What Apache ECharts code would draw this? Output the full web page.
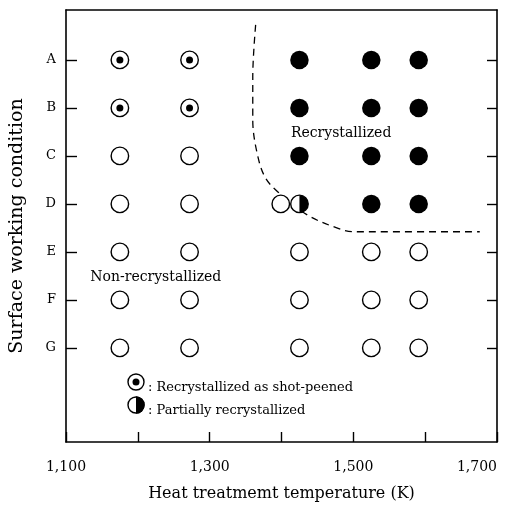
<!DOCTYPE html>
<html>
<head>
<meta charset="utf-8">
<script src="https://cdn.jsdelivr.net/npm/echarts@6/dist/echarts.min.js"></script>
<style>
  html, body { margin: 0; padding: 0; background: #fff; }
  #chart { width: 512px; height: 509px; }
</style>
</head>
<body>
<div id="chart"></div>
<script>
// Heat treatment temperatures (K) of the test columns
const temperatures = [1175, 1272, 1425, 1525, 1591];
// Surface working conditions, top to bottom
const conditions = ['A', 'B', 'C', 'D', 'E', 'F', 'G'];
// Result per condition row, one code per temperature column:
// S = recrystallized as shot-peened, R = recrystallized,
// P = partially recrystallized, N = non-recrystallized
const rowStates = ['SSRRR', 'SSRRR', 'NNRRR', 'NNPRR', 'NNNNN', 'NNNNN', 'NNNNN'];
// Additional specimen tested at condition D
const extraTemps = [1399];
const extraConds = ['D'];
const extraStates = ['N'];
// Boundary of the recrystallized region (temperature, condition position)
const boundaryTemp = [1364, 1360, 1360, 1366, 1377, 1395, 1436, 1477, 1500, 1676];
const boundaryCond = [-0.73, 0.35, 1.25, 1.94, 2.44, 2.75, 3.23, 3.50, 3.58, 3.58];
// Region annotations
const regionLabels = ['Recrystallized', 'Non-recrystallized'];
const regionTemp = [1483, 1225];
const regionCond = [1.54, 4.54];
// X tick labels that are printed
const xLabelValues = [1100, 1300, 1500, 1700];

const FONT = 'DejaVu Serif';

// Collect points per result code
const pts = { S: [], R: [], P: [], N: [] };
rowStates.forEach((row, ri) => {
  row.split('').forEach((code, ci) => {
    pts[code].push([temperatures[ci], ri]);
  });
});
extraTemps.forEach((t, i) => {
  pts[extraStates[i]].push([t, conditions.indexOf(extraConds[i])]);
});

const boundary = boundaryTemp.map((t, i) => [t, boundaryCond[i]]);
const regions = regionLabels.map((s, i) => ({ value: [regionTemp[i], regionCond[i]], name: s }));

const SIZE = 17.5;
const ringStyle = { color: '#fff', borderColor: '#000', borderWidth: 1.4, opacity: 1 };
const solidStyle = { color: '#000', opacity: 1 };
const rightHalf = 'path://M0,0 A10,10 0 0 1 0,20 Z';

const yMin = -1.04, yMax = 7.96;
const yTicks = [0, 1, 2, 3, 4, 5, 6];
const frameLine = { show: true, onZero: false, lineStyle: { color: '#000', width: 1.6 } };

const chart = echarts.init(document.getElementById('chart'), null, { renderer: 'canvas' });

chart.setOption({
  animation: false,
  backgroundColor: '#fff',
  grid: { left: 66, right: 15, top: 10, bottom: 67 },
  xAxis: [{
    type: 'value', min: 1100, max: 1700, interval: 100,
    name: 'Heat treatmemt temperature (K)',
    nameLocation: 'middle', nameGap: 44,
    nameTextStyle: { fontFamily: FONT, fontSize: 16, color: '#000' },
    axisLine: frameLine,
    axisTick: { show: true, inside: true, length: 10, lineStyle: { color: '#000', width: 1.4 } },
    axisLabel: {
      fontFamily: FONT, fontSize: 14, color: '#000', margin: 18,
      alignMaxLabel: 'right',
      formatter: v => xLabelValues.includes(v) ? v.toLocaleString('en-US') : ''
    },
    splitLine: { show: false }
  }, {
    type: 'value', min: 1100, max: 1700, position: 'top',
    axisLine: frameLine,
    axisTick: { show: false }, axisLabel: { show: false }, splitLine: { show: false }
  }],
  yAxis: [{
    type: 'value', inverse: true, min: yMin, max: yMax,
    name: 'Surface working condition',
    nameLocation: 'middle', nameGap: 39, nameRotate: 90,
    nameTextStyle: { fontFamily: FONT, fontSize: 19, color: '#000' },
    axisLine: frameLine,
    axisTick: { show: true, inside: true, length: 11, customValues: yTicks,
                lineStyle: { color: '#000', width: 1.4 } },
    axisLabel: {
      fontFamily: FONT, fontSize: 13, color: '#000', margin: 10,
      customValues: yTicks,
      formatter: v => conditions[Math.round(v)] || ''
    },
    splitLine: { show: false }
  }, {
    type: 'value', inverse: true, min: yMin, max: yMax, position: 'right',
    axisLine: frameLine,
    axisTick: { show: true, inside: true, length: 10, customValues: yTicks,
                lineStyle: { color: '#000', width: 1.4 } },
    axisLabel: { show: false }, splitLine: { show: false }
  }],
  series: [
    {
      name: 'boundary', type: 'line', data: boundary, smooth: 0.35,
      symbol: 'none', silent: true,
      lineStyle: { color: '#000', width: 1.3, type: [7, 5] }, z: 1
    },
    {
      name: 'Non-recrystallized', type: 'scatter', data: pts.N,
      symbol: 'circle', symbolSize: SIZE, itemStyle: ringStyle, z: 3
    },
    {
      name: 'Recrystallized', type: 'scatter', data: pts.R,
      symbol: 'circle', symbolSize: SIZE + 1, itemStyle: solidStyle, z: 3
    },
    {
      name: 'Recrystallized as shot-peened', type: 'scatter', data: pts.S,
      symbol: 'circle', symbolSize: SIZE, itemStyle: ringStyle, z: 3
    },
    {
      name: 'shot-peened core', type: 'scatter', data: pts.S,
      symbol: 'circle', symbolSize: 7, itemStyle: solidStyle, z: 4
    },
    {
      name: 'Partially recrystallized', type: 'scatter', data: pts.P,
      symbol: 'circle', symbolSize: SIZE, itemStyle: ringStyle, z: 3
    },
    {
      name: 'partial fill', type: 'scatter', data: pts.P,
      symbol: rightHalf, symbolSize: [SIZE / 2, SIZE], symbolOffset: [SIZE / 4, 0],
      itemStyle: solidStyle, z: 4
    },
    {
      name: 'regions', type: 'scatter', data: regions, symbolSize: 0, silent: true,
      itemStyle: { opacity: 1 },
      label: {
        show: true, position: 'inside', formatter: p => p.name,
        fontFamily: FONT, fontSize: 14, color: '#000', opacity: 1
      }
    }
  ],
  graphic: [
    { type: 'circle', shape: { cx: 136, cy: 382, r: 8 }, style: { fill: '#fff', stroke: '#000', lineWidth: 1.4 } },
    { type: 'circle', shape: { cx: 136, cy: 382, r: 3.5 }, style: { fill: '#000' } },
    { type: 'text', x: 148, y: 388, style: { text: ': Recrystallized as shot-peened', font: '13px "DejaVu Serif"', fill: '#000', verticalAlign: 'middle' } },
    { type: 'circle', shape: { cx: 136, cy: 405, r: 8 }, style: { fill: '#fff', stroke: '#000', lineWidth: 1.4 } },
    { type: 'sector', shape: { cx: 136, cy: 405, r0: 0, r: 8.7, startAngle: -Math.PI / 2, endAngle: Math.PI / 2 }, style: { fill: '#000' } },
    { type: 'text', x: 148, y: 411, style: { text: ': Partially recrystallized', font: '13px "DejaVu Serif"', fill: '#000', verticalAlign: 'middle' } }
  ]
});
</script>
</body>
</html>
